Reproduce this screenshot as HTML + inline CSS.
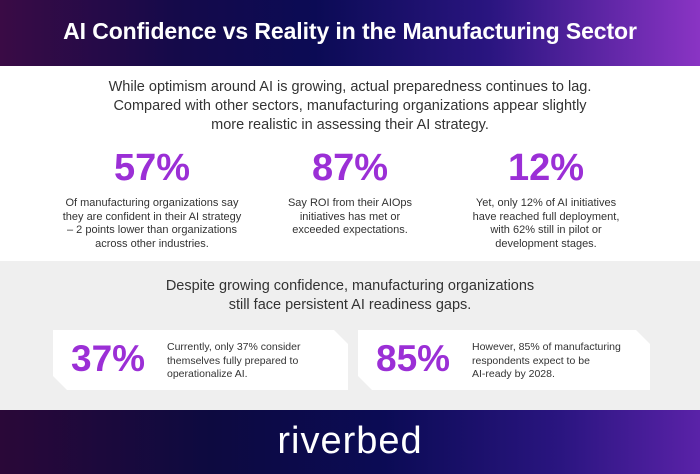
<!DOCTYPE html>
<html><head><meta charset="utf-8"><style>
*{margin:0;padding:0;box-sizing:border-box}
body{width:700px;height:474px;overflow:hidden;font-family:"Liberation Sans",sans-serif;background:#fff;position:relative}
.hdr{position:absolute;left:0;top:0;width:700px;height:66px;background:linear-gradient(90deg,#3a0b45 0%,#150a4a 25%,#0b0b55 45%,#2a1580 70%,#8a34c4 100%)}
.hdr h1{position:absolute;top:18px;width:100%;text-align:center;color:#fff;font-size:23px;font-weight:bold;letter-spacing:-0.1px}
.intro{position:absolute;top:78px;width:100%;text-align:center;color:#333;font-size:14.5px;line-height:19px}
.stat{position:absolute;top:148px;width:200px;text-align:center}
.stat b{display:block;color:#9b2fd6;font-size:38px;font-weight:bold;line-height:40px}
.stat p{color:#333;font-size:11px;line-height:13.5px;margin-top:9px}
.gray{position:absolute;left:0;top:261px;width:700px;height:149px;background:#efefef}
.gray .t{position:absolute;top:16px;width:100%;text-align:center;color:#333;font-size:14.5px;line-height:19px}
.card{position:absolute;top:330px;height:60px;background:#fff;clip-path:polygon(0 0,calc(100% - 14px) 0,100% 14px,100% 100%,14px 100%,0 calc(100% - 14px));filter:drop-shadow(0 1px 1px #bbb)}
.card b{position:absolute;left:18px;top:8px;color:#9b2fd6;font-size:37px;font-weight:bold}
.card p{position:absolute;left:114px;top:11px;color:#333;font-size:10.5px;line-height:13.5px}
.ftr{position:absolute;left:0;top:410px;width:700px;height:64px;background:linear-gradient(90deg,#2a0838 0%,#0d0a40 30%,#0b0b55 55%,#2a1580 80%,#5a22a8 100%)}
.ftr span{position:absolute;top:10px;width:100%;text-align:center;color:#fff;font-size:38px;letter-spacing:1px}
</style></head><body>
<div class="hdr"><h1>AI Confidence vs Reality in the Manufacturing Sector</h1></div>
<div class="intro">While optimism around AI is growing, actual preparedness continues to lag.<br>Compared with other sectors, manufacturing organizations appear slightly<br>more realistic in assessing their AI strategy.</div>
<div class="stat" style="left:52px"><b>57%</b><p>Of manufacturing organizations say<br>they are confident in their AI strategy<br>– 2 points lower than organizations<br>across other industries.</p></div>
<div class="stat" style="left:250px"><b>87%</b><p>Say ROI from their AIOps<br>initiatives has met or<br>exceeded expectations.</p></div>
<div class="stat" style="left:446px"><b>12%</b><p>Yet, only 12% of AI initiatives<br>have reached full deployment,<br>with 62% still in pilot or<br>development stages.</p></div>
<div class="gray"><div class="t">Despite growing confidence, manufacturing organizations<br>still face persistent AI readiness gaps.</div></div>
<div class="card" style="left:53px;width:295px"><b>37%</b><p>Currently, only 37% consider<br>themselves fully prepared to<br>operationalize AI.</p></div>
<div class="card" style="left:358px;width:292px"><b>85%</b><p>However, 85% of manufacturing<br>respondents expect to be<br>AI-ready by 2028.</p></div>
<div class="ftr"><span>riverbed</span></div>
</body></html>
